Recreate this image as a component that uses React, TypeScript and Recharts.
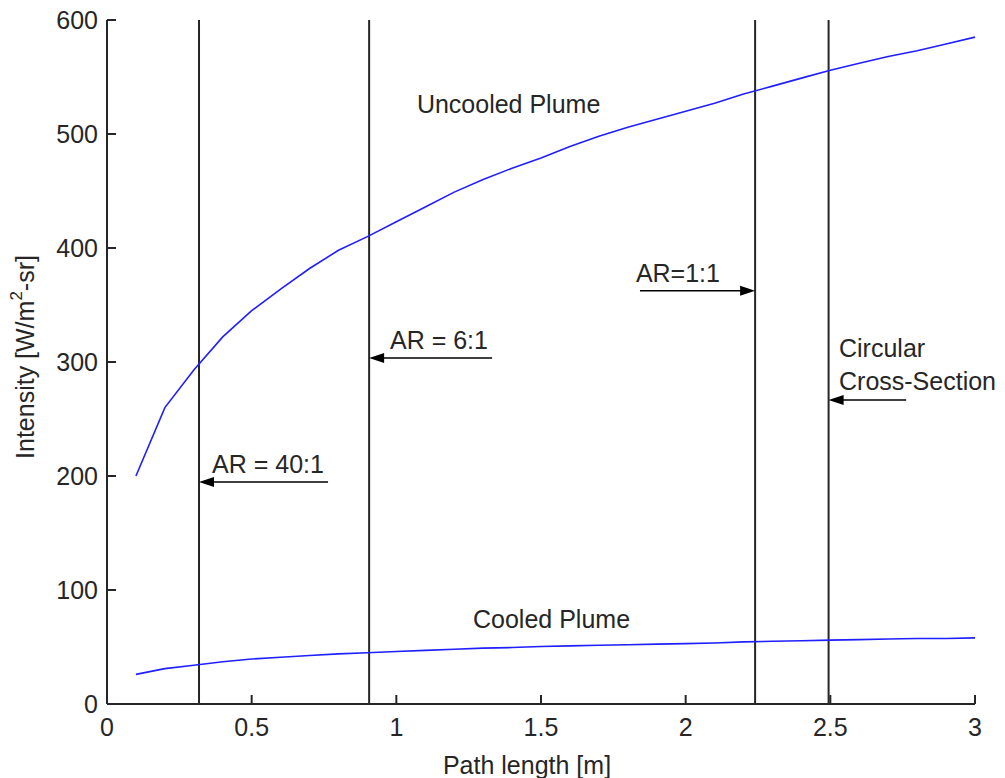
import {
  LineChart,
  Line,
  XAxis,
  YAxis,
  ReferenceLine,
  ReferenceDot,
} from "recharts";

const pathLength = [
  0.1, 0.2, 0.3, 0.4, 0.5, 0.6, 0.7, 0.8, 0.9, 1.0, 1.1, 1.2, 1.3, 1.4, 1.5,
  1.6, 1.7, 1.8, 1.9, 2.0, 2.1, 2.2, 2.3, 2.4, 2.5, 2.6, 2.7, 2.8, 2.9, 3.0,
];
const uncooled = [
  200, 260, 293, 322, 345, 364, 382, 398, 410, 423, 436, 449, 460, 470, 479,
  489, 498, 506, 513, 520, 527, 535, 542, 549, 556, 562, 568, 573, 579, 585,
];
const cooled = [
  26, 31, 34, 37, 39.5, 41, 42.5, 44, 45, 46, 47, 48, 49, 49.5, 50.5, 51, 51.5,
  52, 52.5, 53, 53.5, 54.5, 55, 55.5, 56, 56.5, 57, 57.5, 57.5, 58,
];

const xTicks = [0, 0.5, 1, 1.5, 2, 2.5, 3];
const yTicks = [0, 100, 200, 300, 400, 500, 600];

// aspect-ratio markers (vertical lines)
const markerX = [0.318, 0.906, 2.24, 2.494];

// arrows: tail -> head, at height y
const arrows = [
  { from: 0.764, to: 0.318, y: 194.7 },
  { from: 1.331, to: 0.906, y: 303.5 },
  { from: 1.842, to: 2.24, y: 362.5 },
  { from: 2.762, to: 2.494, y: 266.7 },
];

const notes = [
  { x: 0.363, y: 202.6, text: "AR = 40:1" },
  { x: 0.978, y: 311, text: "AR = 6:1" },
  { x: 1.828, y: 370.4, text: "AR=1:1" },
  { x: 2.53, y: 304.6, text: "Circular" },
  { x: 2.53, y: 275.4, text: "Cross-Section" },
  { x: 1.071, y: 518.4, text: "Uncooled Plume" },
  { x: 1.265, y: 66.7, text: "Cooled Plume" },
];

const FONT = "'Liberation Sans', Arial, sans-serif";
const FS = 25;
const INK = "#262626";
const BLUE = "#1f1fff";

const data = pathLength.map((x, i) => ({
  x,
  uncooled: uncooled[i],
  cooled: cooled[i],
}));

function XTick(props: any) {
  const { x, y, payload } = props;
  return (
    <g>
      <line x1={x} y1={y} x2={x} y2={y - 9} stroke={INK} strokeWidth={2} />
      <text
        x={x}
        y={y + 32}
        textAnchor="middle"
        fontFamily={FONT}
        fontSize={FS}
        fill={INK}
      >
        {payload.value}
      </text>
    </g>
  );
}

function YTick(props: any) {
  const { x, y, payload } = props;
  return (
    <g>
      <line x1={x} y1={y} x2={x + 9} y2={y} stroke={INK} strokeWidth={2} />
      <text
        x={x - 9}
        y={y + 9}
        textAnchor="end"
        fontFamily={FONT}
        fontSize={FS}
        fill={INK}
      >
        {payload.value}
      </text>
    </g>
  );
}

function Arrow(props: any) {
  const { x1, y1, x2, y2 } = props;
  const dir = x2 > x1 ? 1 : -1;
  const len = 15;
  const hw = 5;
  return (
    <g>
      <line x1={x1} y1={y1} x2={x2 - dir * 6} y2={y2} stroke="#000" strokeWidth={1.5} />
      <polygon
        points={`${x2},${y2} ${x2 - dir * len},${y2 - hw} ${x2 - dir * len},${y2 + hw}`}
        fill="#000"
      />
    </g>
  );
}

export default function App() {
  return (
    <div
      style={{
        position: "absolute",
        left: 0,
        top: 0,
        width: 1005,
        height: 778,
        background: "#fff",
      }}
    >
      <LineChart
        width={1005}
        height={778}
        data={data}
        margin={{ top: 20, right: 30, bottom: 0, left: 0 }}
      >
        <XAxis
          dataKey="x"
          type="number"
          domain={[0, 3]}
          ticks={xTicks}
          interval={0}
          height={74}
          tickSize={0}
          tickMargin={0}
          tick={<XTick />}
          axisLine={{ stroke: INK, strokeWidth: 2 }}
          label={{
            content: (p: any) => {
              const vb = p.viewBox;
              return (
                <text
                  x={vb.x + vb.width / 2 - 14}
                  y={vb.y + 70}
                  textAnchor="middle"
                  fontFamily={FONT}
                  fontSize={FS}
                  fill={INK}
                >
                  Path length [m]
                </text>
              );
            },
          }}
        />
        <YAxis
          type="number"
          domain={[0, 600]}
          ticks={yTicks}
          interval={0}
          width={107}
          tickSize={0}
          tickMargin={0}
          tick={<YTick />}
          axisLine={{ stroke: INK, strokeWidth: 2 }}
          label={{
            content: (p: any) => {
              const vb = p.viewBox;
              const cx = vb.x + 25;
              const cy = vb.y + vb.height / 2 - 5;
              return (
                <text
                  x={cx}
                  y={cy}
                  transform={`rotate(-90 ${cx} ${cy})`}
                  textAnchor="middle"
                  dominantBaseline="central"
                  fontFamily={FONT}
                  fontSize={FS}
                  fill={INK}
                >
                  Intensity [W/m
                  <tspan fontSize={17} dy={-9}>
                    2
                  </tspan>
                  <tspan dy={9}>-sr]</tspan>
                </text>
              );
            },
          }}
        />
        {markerX.map((mx) => (
          <ReferenceLine
            key={mx}
            x={mx}
            stroke={INK}
            strokeWidth={2}
          />
        ))}
        <Line
          dataKey="uncooled"
          type="linear"
          stroke={BLUE}
          strokeWidth={1.6}
          dot={false}
          isAnimationActive={false}
        />
        <Line
          dataKey="cooled"
          type="linear"
          stroke={BLUE}
          strokeWidth={1.6}
          dot={false}
          isAnimationActive={false}
        />
        {arrows.map((a, i) => (
          <ReferenceLine
            key={`a${i}`}
            segment={[
              { x: a.from, y: a.y },
              { x: a.to, y: a.y },
            ]}
            shape={<Arrow />}
          />
        ))}
        {notes.map((n, i) => (
          <ReferenceDot
            key={`n${i}`}
            x={n.x}
            y={n.y}
            r={0}
            shape={(p: any) => (
              <text
                x={p.cx}
                y={p.cy}
                fontFamily={FONT}
                fontSize={FS}
                fill={INK}
              >
                {n.text}
              </text>
            )}
          />
        ))}
      </LineChart>
    </div>
  );
}
